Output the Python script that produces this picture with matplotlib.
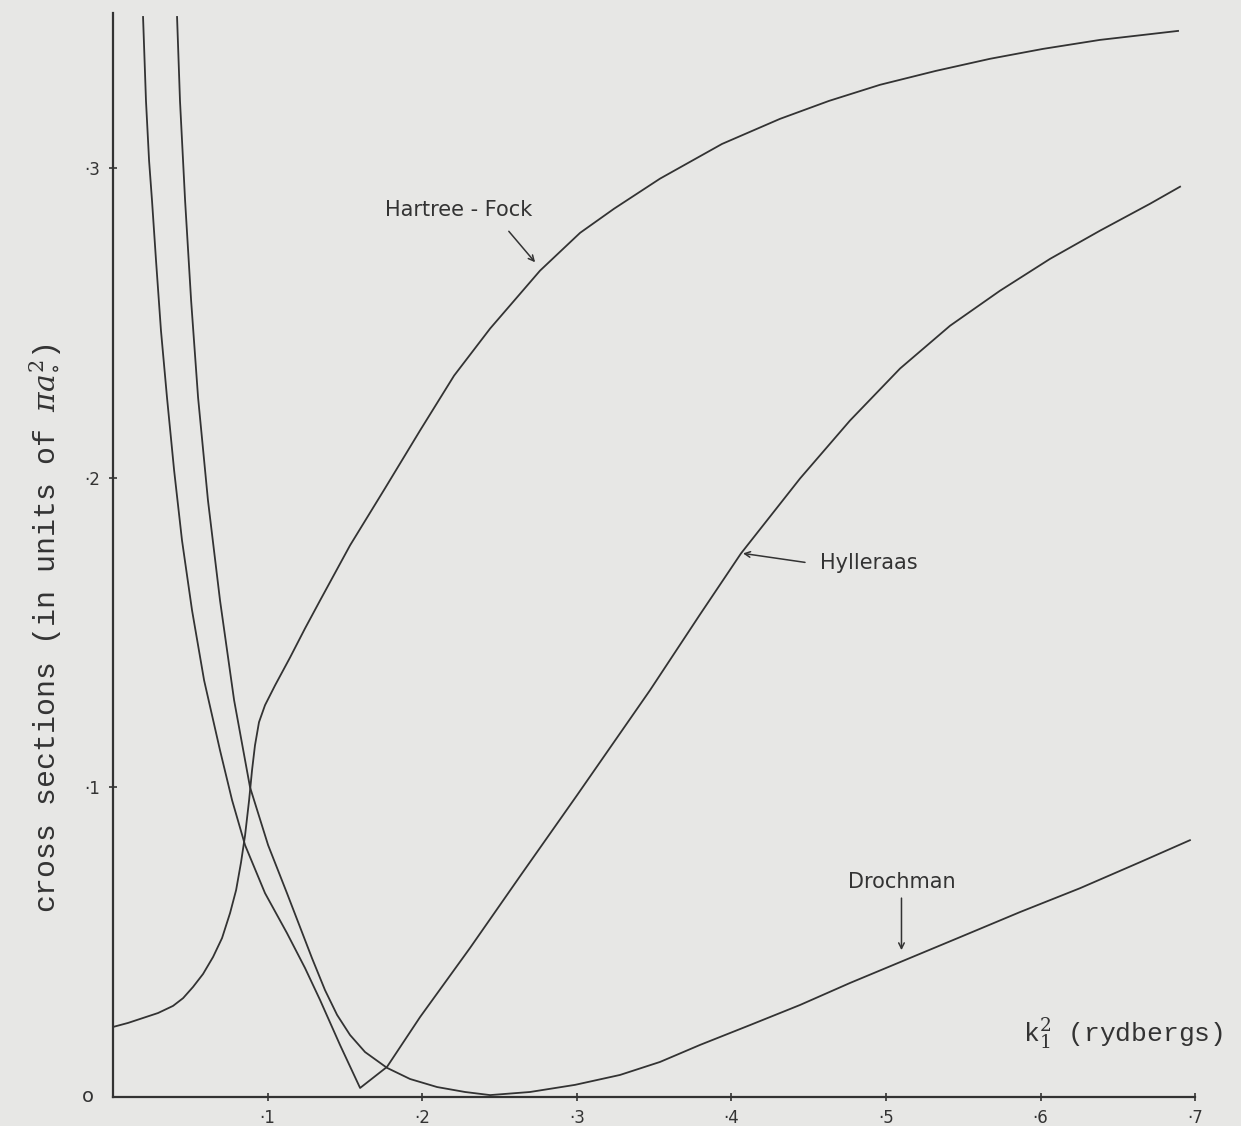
import matplotlib.pyplot as plt

# values (k1^2 in rydbergs, cross section in pi a0^2)
hf_x = [0.0, 0.0097, 0.0194, 0.0291, 0.0388, 0.0453, 0.0517, 0.0582, 0.0647, 0.0705,
        0.0757, 0.0796, 0.0828, 0.0854, 0.0880, 0.0899, 0.0918, 0.0944, 0.0983, 0.1048,
        0.1145, 0.1242, 0.1339, 0.1533, 0.1759, 0.1986, 0.2206, 0.2439, 0.2762, 0.3021,
        0.3241, 0.3538, 0.3939, 0.4314, 0.4631, 0.4961, 0.5323, 0.5673, 0.6016, 0.6384,
        0.6889]
hf_y = [0.0226, 0.0239, 0.0255, 0.0271, 0.0294, 0.0319, 0.0355, 0.0397, 0.0452, 0.0513,
        0.0594, 0.0668, 0.0758, 0.0845, 0.0958, 0.1055, 0.1135, 0.1210, 0.1265, 0.1329,
        0.1419, 0.1513, 0.1603, 0.1781, 0.1965, 0.2152, 0.2329, 0.2481, 0.2668, 0.2790,
        0.2868, 0.2965, 0.3077, 0.3158, 0.3216, 0.3268, 0.3313, 0.3352, 0.3384, 0.3413,
        0.3442]

hyl_x = [0.0194, 0.0213, 0.0233, 0.0252, 0.0278, 0.0310, 0.0349, 0.0395, 0.0446, 0.0511,
         0.0589, 0.0692, 0.0770, 0.0854, 0.0983, 0.1125, 0.1242, 0.1339, 0.1468, 0.1598,
         0.1772, 0.1986, 0.2309, 0.2633, 0.3001, 0.3473, 0.3797, 0.4062, 0.4444, 0.4767,
         0.5091, 0.5414, 0.5737, 0.6061, 0.6384, 0.6708, 0.6902]
hyl_y = [0.3487, 0.3216, 0.3023, 0.2894, 0.2700, 0.2474, 0.2258, 0.2023, 0.1797, 0.1571,
         0.1345, 0.1119, 0.0958, 0.0813, 0.0658, 0.0529, 0.0416, 0.0313, 0.0168, 0.0029,
         0.0097, 0.0258, 0.0481, 0.0713, 0.0974, 0.1313, 0.1558, 0.1755, 0.1997, 0.2184,
         0.2352, 0.2490, 0.2603, 0.2706, 0.2797, 0.2884, 0.2939]

dro_x = [0.0414, 0.0433, 0.0466, 0.0505, 0.0550, 0.0614, 0.0692, 0.0783, 0.0886, 0.1003,
         0.1125, 0.1287, 0.1371, 0.1449, 0.1533, 0.1630, 0.1772, 0.1921, 0.2096, 0.2277,
         0.2439, 0.2697, 0.2988, 0.3279, 0.3538, 0.3797, 0.4120, 0.4444, 0.4767, 0.5123,
         0.5479, 0.5867, 0.6255, 0.6643, 0.6966]
dro_y = [0.3487, 0.3216, 0.2894, 0.2571, 0.2258, 0.1926, 0.1603, 0.1281, 0.1000, 0.0813,
         0.0658, 0.0448, 0.0345, 0.0265, 0.0200, 0.0145, 0.0094, 0.0058, 0.0032, 0.0016,
         0.0006, 0.0016, 0.0039, 0.0071, 0.0113, 0.0168, 0.0232, 0.0297, 0.0368, 0.0442,
         0.0516, 0.0597, 0.0674, 0.0758, 0.0829]

xticks = [0.1, 0.2, 0.3, 0.4, 0.5, 0.6, 0.7]
xtick_labels = ["·1", "·2", "·3", "·4", "·5", "·6", "·7"]
yticks = [0.1, 0.2, 0.3]
ytick_labels = ["·1", "·2", "·3"]

paper = "#e7e7e5"
ink = "#333333"

plt.rcParams["mathtext.fontset"] = "dejavuserif"

fig = plt.figure(figsize=(12.41, 11.26), dpi=100, facecolor=paper)
ax = fig.add_axes([0.0911, 0.0258, 0.872, 0.9627])
ax.set_facecolor(paper)

for xs, ys in [(hf_x, hf_y), (hyl_x, hyl_y), (dro_x, dro_y)]:
    ax.plot(xs, ys, color=ink, lw=1.3)

ax.set_xlim(0, 0.7)
ax.set_ylim(0, 0.35)
ax.spines["top"].set_visible(False)
ax.spines["right"].set_visible(False)
for s in ["left", "bottom"]:
    ax.spines[s].set_color(ink)
    ax.spines[s].set_linewidth(1.6)

ax.set_xticks(xticks)
ax.set_xticklabels(xtick_labels, fontsize=12, color=ink)
ax.set_yticks(yticks)
ax.set_yticklabels(ytick_labels, fontsize=12, color=ink)
ax.tick_params(direction="inout", length=6, width=1.2, color=ink, pad=6)

# origin label
ax.text(-0.016, 0.0, "o", fontsize=14, color=ink, ha="center", va="center")

fig.text(45 / 1241, 1 - 628 / 1126, r"cross sections (in units of $\pi a_{\circ}^{2}$)",
         family="Liberation Mono", fontsize=21.5, color=ink, rotation=90,
         ha="center", va="center")
ax.text(0.718, 0.0205, r"k$_{1}^{2}$ (rydbergs)", family="Liberation Mono", fontsize=19,
        color=ink, ha="right", va="center")

# curve labels with hand-drawn style arrows
arrow = dict(arrowstyle="->", color=ink, lw=1.1, shrinkA=0, shrinkB=0)
ax.text(0.176, 0.2865, "Hartree - Fock", fontsize=15, color=ink, ha="left", va="center")
ax.annotate("", xy=(0.273, 0.2695), xytext=(0.256, 0.2795), arrowprops=arrow)

ax.text(0.457, 0.1723, "Hylleraas", fontsize=15, color=ink, ha="left", va="center")
ax.annotate("", xy=(0.4075, 0.1755), xytext=(0.4476, 0.1726), arrowprops=arrow)

ax.text(0.510, 0.0694, "Drochman", fontsize=15, color=ink, ha="center", va="center")
ax.annotate("", xy=(0.510, 0.0474), xytext=(0.510, 0.0642), arrowprops=arrow)

fig.savefig("out.png", dpi=100, facecolor=paper)
